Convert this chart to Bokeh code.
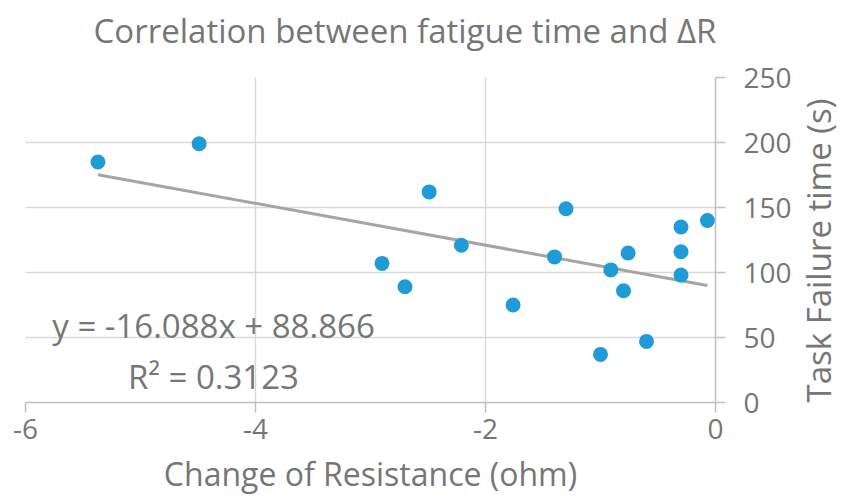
import math
from bokeh.plotting import figure
from bokeh.models import (Range1d, FixedTicker, Label, PrintfTickFormatter, LinearAxis,
                          CustomJSTickFormatter)
from bokeh.embed import file_html
from bokeh.resources import INLINE

# ---- data ----
resistance_change = [-5.37, -4.49, -2.49, -2.90, -2.70, -2.21, -1.76, -1.40, -1.30,
                     -1.00, -0.91, -0.80, -0.76, -0.60, -0.30, -0.30, -0.30, -0.07]
failure_time = [185, 199, 162, 107, 89, 121, 75, 112, 149,
                37, 102, 86, 115, 47, 135, 116, 98, 140]
x_ticks = [-6, -4, -2, 0]
y_ticks = [0, 50, 100, 150, 200, 250]
slope = -16.088
intercept = 88.866
r_squared = 0.3123

title_text = "Correlation between fatigue time and \u0394R"
x_label = "Change of Resistance (ohm)"
y_label = "Task Failure time (s)"

FONT = "Open Sans"
TEXT = "#767676"
GRID = "#D9D9D9"
AXIS = "#BFBFBF"

p = figure(frame_width=690, frame_height=325, title=None,
           x_range=Range1d(-6, 0), y_range=Range1d(0, 250),
           y_axis_location="right",
           output_backend="svg", toolbar_location=None,
           background_fill_color="white", border_fill_color="white")
p.min_border_left = 25
p.min_border_top = 77
p.min_border_right = 0
p.min_border_bottom = 0
p.outline_line_color = None

for ax, ticks in ((p.xaxis[0], x_ticks), (p.yaxis[0], y_ticks)):
    ax.ticker = FixedTicker(ticks=ticks)
    ax.formatter = PrintfTickFormatter(format="%d")
    ax.axis_line_color = AXIS
    ax.axis_line_width = 1.5
    ax.major_tick_line_color = AXIS
    ax.major_tick_line_width = 1.5
    ax.major_tick_out = 10
    ax.major_tick_in = 0
    ax.minor_tick_line_color = None
    ax.major_label_text_font = FONT
    ax.major_label_text_font_size = "28px"
    ax.major_label_text_color = TEXT
    ax.axis_label_text_font = FONT
    ax.axis_label_text_font_size = "32px"
    ax.axis_label_text_font_style = "normal"
    ax.axis_label_text_color = TEXT

p.xaxis[0].axis_label = x_label
p.xaxis[0].major_label_standoff = 6
p.xaxis[0].axis_label_standoff = 10
p.yaxis[0].major_label_standoff = 18

# chart title: a tick-less axis above the frame whose single label is the title,
# centred where the reference centres it
title_center_x = -2.7
title_axis = LinearAxis(ticker=FixedTicker(ticks=[title_center_x]),
                        formatter=CustomJSTickFormatter(args=dict(t=title_text), code="return t"))
title_axis.axis_line_color = None
title_axis.major_tick_line_color = None
title_axis.minor_tick_line_color = None
title_axis.major_tick_out = 0
title_axis.major_tick_in = 0
title_axis.major_label_standoff = 25
title_axis.major_label_text_font = FONT
title_axis.major_label_text_font_size = "33px"
title_axis.major_label_text_color = TEXT
p.add_layout(title_axis, "above")

# y-axis title (label-only axis to the right of the tick labels, reading upwards)
ytitle_axis = LinearAxis(ticker=FixedTicker(ticks=[]))
ytitle_axis.axis_line_color = None
ytitle_axis.major_tick_line_color = None
ytitle_axis.minor_tick_line_color = None
ytitle_axis.major_tick_out = 0
ytitle_axis.major_label_standoff = 0
ytitle_axis.axis_label = y_label
ytitle_axis.axis_label_standoff = 24
ytitle_axis.axis_label_text_font = FONT
ytitle_axis.axis_label_text_font_size = "33px"
ytitle_axis.axis_label_text_font_style = "normal"
ytitle_axis.axis_label_text_color = TEXT
if "axis_label_orientation" in ytitle_axis.properties():
    ytitle_axis.axis_label_orientation = math.pi / 2
if "axis_label_align" in ytitle_axis.properties():
    ytitle_axis.axis_label_align = "start"
p.add_layout(ytitle_axis, "right")

p.xgrid.ticker = FixedTicker(ticks=x_ticks)
p.ygrid.ticker = FixedTicker(ticks=y_ticks)
p.grid.grid_line_color = GRID
p.grid.grid_line_width = 1.5

# trendline
xmin, xmax = min(resistance_change), max(resistance_change)
trend_x = [xmin, xmax]
trend_y = [slope * v + intercept for v in trend_x]
p.line(trend_x, trend_y, line_color="#A5A5A5", line_width=3)

p.scatter(resistance_change, failure_time, size=15, fill_color="#1F9BD8", line_color=None)

eq1 = "y = %.3fx + %.3f" % (slope, intercept)
eq2 = "R\u00b2 = %.4f" % r_squared
for txt, yy in ((eq1, 59), (eq2, 20)):
    p.add_layout(Label(x=-4.365, y=yy, text=txt, text_align="center", text_baseline="middle",
                       text_font=FONT, text_font_size="33px", text_color=TEXT))

open("out.html", "w").write(file_html(p, INLINE))
